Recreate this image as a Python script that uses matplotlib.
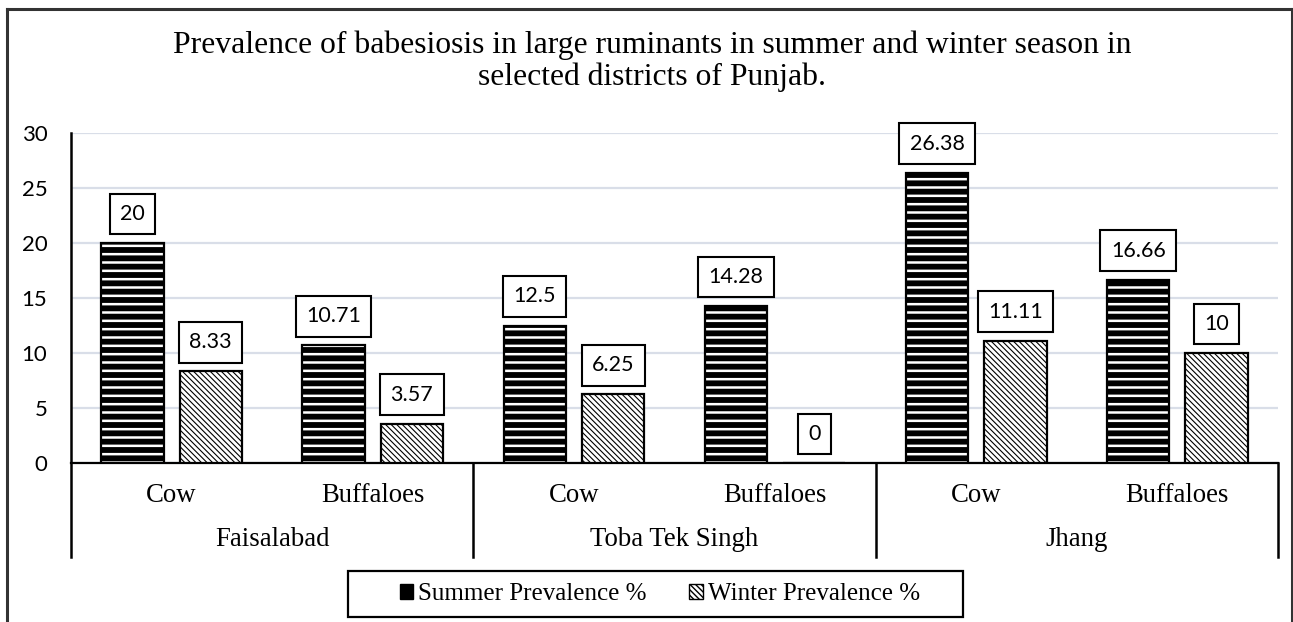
import matplotlib
matplotlib.use("Agg")
import matplotlib.pyplot as plt
from matplotlib.patches import Patch, Rectangle
from matplotlib.lines import Line2D
import numpy as np

# Data
districts = ["Faisalabad", "Toba Tek Singh", "Jhang"]
animals = ["Cow", "Buffaloes"]
summer = [20, 10.71, 12.5, 14.28, 26.38, 16.66]
winter = [8.33, 3.57, 6.25, 0, 11.11, 10]
series_names = ["Summer Prevalence %", "Winter Prevalence %"]
title_lines = ["Prevalence of babesiosis in large ruminants in summer and winter season in",
               "selected districts of Punjab."]

SERIF = "Liberation Serif"
SANS = "Lato"

W, H = 1293, 622
fig = plt.figure(figsize=(W / 100, H / 100), dpi=100)
ax = fig.add_axes([71 / W, 1 - 463 / H, (1278 - 71) / W, (463 - 133) / H])

n = len(summer)
x = np.arange(n)
off = 0.195
bw = 0.31
SUMMER_HATCH, SUMMER_HLW = "--", 1.8
WINTER_HATCH, WINTER_HLW = "\\\\\\\\\\\\", 0.8


def hatched_bars(xpos, vals, face, hcolor, hatch, hlw):
    with plt.rc_context({"hatch.linewidth": hlw}):
        bars = ax.bar(xpos, vals, bw, color=face, edgecolor=hcolor,
                      linewidth=0, hatch=hatch, zorder=3)
    for b in bars:
        if hasattr(b, "set_hatch_linewidth"):
            b.set_hatch_linewidth(hlw)
    ax.bar(xpos, vals, bw, fill=False, edgecolor="black", linewidth=1.6, zorder=4)
    return bars


hatched_bars(x - off, summer, "black", "white", SUMMER_HATCH, SUMMER_HLW)
hatched_bars(x + off, winter, "white", "black", WINTER_HATCH, WINTER_HLW)

# Boxed value labels
for xs, vals in ((x - off, summer), (x + off, winter)):
    for xi, v in zip(xs, vals):
        ax.annotate(f"{v:g}", (xi, v), xytext=(0, 29), textcoords="offset pixels",
                    ha="center", va="center", fontsize=15.5, family=SANS, zorder=5,
                    bbox=dict(boxstyle="square,pad=0.48", fc="white", ec="black", lw=1.5))

ax.set_xlim(-0.5, n - 0.5)
ax.set_ylim(0, 30)
ax.set_yticks(np.arange(0, 31, 5))
ax.tick_params(axis="y", length=0, pad=17, labelsize=16)
for lab in ax.get_yticklabels():
    lab.set_family(SANS)
ax.set_xticks([])
ax.yaxis.grid(True, color="#d9dee8", linewidth=1.6, zorder=0)
ax.set_axisbelow(True)
for s in ("top", "right"):
    ax.spines[s].set_visible(False)
ax.spines["bottom"].set_linewidth(1.6)
ax.spines["left"].set_visible(False)

# Two-level category axis
trans = ax.get_xaxis_transform()
for i in range(n):
    ax.text(x[i], -0.097, animals[i % 2], transform=trans, ha="center", va="center",
            fontsize=19.3, family=SERIF)
for g, d in enumerate(districts):
    ax.text(2 * g + 0.5, -0.233, d, transform=trans, ha="center", va="center",
            fontsize=19.3, family=SERIF)
for b in np.arange(-0.5, n, 2):
    top = 1.0 if b == -0.5 else 0.0
    ax.add_line(Line2D([b, b], [top, -0.285], transform=trans, color="black",
                       linewidth=1.8, clip_on=False))

# Title, one text per line (baselines in pixels from the top)
for line, base in zip(title_lines, (53, 85)):
    fig.text(652 / W, 1 - base / H, line, ha="center", va="baseline", fontsize=22.8,
             family=SERIF)

# Legend
with plt.rc_context({"hatch.linewidth": WINTER_HLW}):
    handles = [Patch(facecolor="black", edgecolor="black", hatch=""),
               Patch(facecolor="white", edgecolor="black", hatch=WINTER_HATCH)]
leg = fig.legend(handles, series_names, loc="center", bbox_to_anchor=(660 / W, 1 - 594 / H),
                 ncol=2, frameon=False, prop={"family": SERIF, "size": 18},
                 handlelength=0.55, handleheight=0.55, handletextpad=0.2,
                 columnspacing=1.7, borderpad=0.3)
fig.add_artist(Rectangle((348 / W, 1 - 617 / H), (963 - 348) / W, (617 - 571) / H,
                         transform=fig.transFigure, fill=False, edgecolor="black",
                         linewidth=1.6))

# Outer frame
frame_kw = dict(color="#333333", linewidth=2.2, transform=fig.transFigure)
fig.add_artist(Line2D([7 / W, 7 / W], [0, 1 - 9 / H], **frame_kw))
fig.add_artist(Line2D([7 / W, 1292 / W], [1 - 9 / H, 1 - 9 / H], **frame_kw))
fig.add_artist(Line2D([1292 / W, 1292 / W], [0, 1 - 9 / H], **frame_kw))

fig.savefig("out.png", dpi=100)
